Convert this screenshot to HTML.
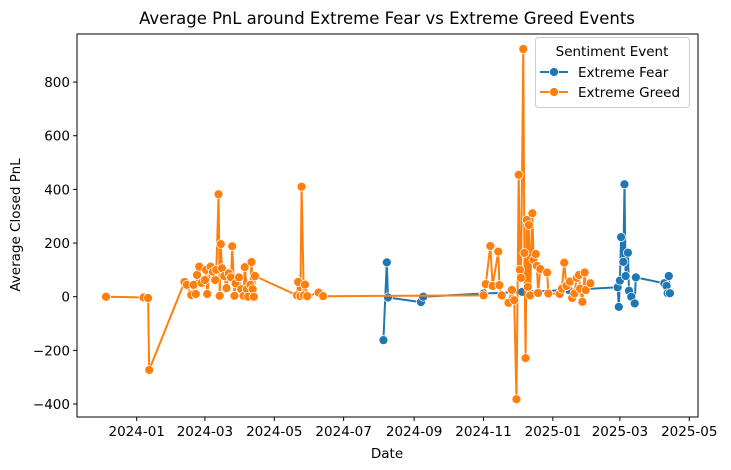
<!DOCTYPE html>
<html><head><meta charset="utf-8"><style>
body{margin:0;background:#fff}
svg{display:block;font-family:"DejaVu Sans","Liberation Sans",sans-serif}
</style></head><body>
<svg id="chart" width="731" height="470">
<text x="387" y="24" text-anchor="middle" font-size="16.5">Average PnL around Extreme Fear vs Extreme Greed Events</text>
<text x="387" y="458" text-anchor="middle" font-size="13.5">Date</text>
<text transform="translate(20,225) rotate(-90)" text-anchor="middle" font-size="13.5">Average Closed PnL</text>
<g id="axes"></g>
<g id="marks"></g>
<g>
<rect x="535.5" y="37.5" width="154" height="70" rx="3" fill="#fff" fill-opacity="0.8" stroke="#ccc"/>
<text x="612" y="56" text-anchor="middle" font-size="13.5">Sentiment Event</text>
<g>
<line x1="540" y1="72" x2="568" y2="72" stroke="#1f77b4" stroke-width="2"/>
<circle cx="554" cy="72" r="4.5" fill="#1f77b4" stroke="#fff" stroke-width="0.75"/>
<text x="578" y="77" font-size="13.5">Extreme Fear</text></g>
<g>
<line x1="540" y1="92" x2="568" y2="92" stroke="#ff7f0e" stroke-width="2"/>
<circle cx="554" cy="92" r="4.5" fill="#ff7f0e" stroke="#fff" stroke-width="0.75"/>
<text x="578" y="97" font-size="13.5">Extreme Greed</text></g>
</g>
</svg>
<script>
const greedDates=["2023-12-05","2024-01-07","2024-01-11","2024-01-12","2024-02-12","2024-02-14","2024-02-18","2024-02-20","2024-02-22","2024-02-23","2024-02-25","2024-02-27","2024-03-01","2024-03-02","2024-03-03","2024-03-06","2024-03-08","2024-03-10","2024-03-11","2024-03-13","2024-03-14","2024-03-15","2024-03-16","2024-03-18","2024-03-20","2024-03-22","2024-03-24","2024-03-25","2024-03-27","2024-03-28","2024-03-31","2024-04-02","2024-04-04","2024-04-05","2024-04-07","2024-04-08","2024-04-10","2024-04-11","2024-04-12","2024-04-13","2024-04-14","2024-05-21","2024-05-22","2024-05-24","2024-05-25","2024-05-27","2024-05-28","2024-05-30","2024-06-09","2024-06-13","2024-11-01","2024-11-03","2024-11-07","2024-11-09","2024-11-14","2024-11-15","2024-11-17","2024-11-23","2024-11-26","2024-11-28","2024-11-30","2024-12-02","2024-12-03","2024-12-04","2024-12-06","2024-12-07","2024-12-08","2024-12-09","2024-12-10","2024-12-11","2024-12-12","2024-12-14","2024-12-15","2024-12-17","2024-12-18","2024-12-19","2024-12-21","2024-12-27","2024-12-28","2025-01-07","2025-01-09","2025-01-11","2025-01-13","2025-01-16","2025-01-18","2025-01-20","2025-01-22","2025-01-24","2025-01-25","2025-01-27","2025-01-29","2025-01-30","2025-02-03"];
const greedValues=[0,-3,-5,-273,55,44,6,44,10,81,112,51,62,100,10,112,93,62,100,382,3,196,106,77,32,87,72,188,3,50,72,28,3,110,28,0,44,129,28,0,77,5,55,2,410,5,45,2,15,2,5,47,189,40,168,43,5,-23,25,-13,-382,454,100,70,923,163,-229,286,37,267,5,311,137,159,115,14,103,90,12,10,30,127,40,56,-5,12,70,81,30,-19,90,25,50];
const fearDates=["2024-08-05","2024-08-08","2024-08-09","2024-09-07","2024-09-09","2024-11-01","2024-12-05","2025-01-15","2025-02-27","2025-02-28","2025-03-01","2025-03-02","2025-03-04","2025-03-05","2025-03-06","2025-03-08","2025-03-09","2025-03-11","2025-03-14","2025-03-15","2025-04-09","2025-04-11","2025-04-12","2025-04-13","2025-04-14"];
const fearValues=[-162,128,-3,-20,0,12,18,25,35,-38,60,222,130,419,77,164,22,0,-25,72,50,40,13,77,13];
const yTicks=[-400,-200,0,200,400,600,800];
const xTicks=["2024-01","2024-03","2024-05","2024-07","2024-09","2024-11","2025-01","2025-03","2025-05"];

const L=77,R=698,T=34,B=417;
const t0=Date.UTC(2024,0,1);
function days(s){const p=s.split('-').map(Number);return (Date.UTC(p[0],p[1]-1,p[2]||1)-t0)/864e5;}
function xs(s){return 136.7+days(s)*1.137;}
function ys(v){return 296.7-v*0.2683;}
const NS="http://www.w3.org/2000/svg";
function mk(tag,attrs,parent){const e=document.createElementNS(NS,tag);for(const k in attrs)e.setAttribute(k,attrs[k]);parent.appendChild(e);return e;}
const ax=document.getElementById('axes'),mg=document.getElementById('marks');
const frame=mk('rect',{x:L,y:T,width:R-L,height:B-T,fill:'none',stroke:'#000','stroke-width':1},ax);


yTicks.forEach(v=>{const y=ys(v);
 const l=mk('line',{x1:L-4,x2:L,y1:y,y2:y,stroke:'#000'},ax);
 
 
 const t=mk('text',{x:L-7,y:y+5,'text-anchor':'end','font-size':13.5},ax);t.textContent=String(v).replace('-','\u2212');
 
 });
xTicks.forEach(s=>{const x=xs(s);
 const l=mk('line',{x1:x,x2:x,y1:B,y2:B+4,stroke:'#000'},ax);
 
 
 const t=mk('text',{x:x,y:B+19,'text-anchor':'middle','font-size':13.5},ax);t.textContent=s;
 
 });
function series(dates,vals,color,name){
 const g=mk('g',{},mg);
 
 
 const pts=dates.map((d,i)=>xs(d).toFixed(1)+','+ys(vals[i]).toFixed(1)).join(' ');
 const pl=mk('polyline',{points:pts,fill:'none',stroke:color,'stroke-width':2,'stroke-linejoin':'round'},g);
 
 
 dates.forEach((d,i)=>{const c=mk('circle',{cx:xs(d),cy:ys(vals[i]),r:4.5,fill:color,stroke:'#fff','stroke-width':0.75},g);
  
  });
}
series(fearDates,fearValues,'#1f77b4','extreme-fear');
series(greedDates,greedValues,'#ff7f0e','extreme-greed');
</script>
</body></html>
